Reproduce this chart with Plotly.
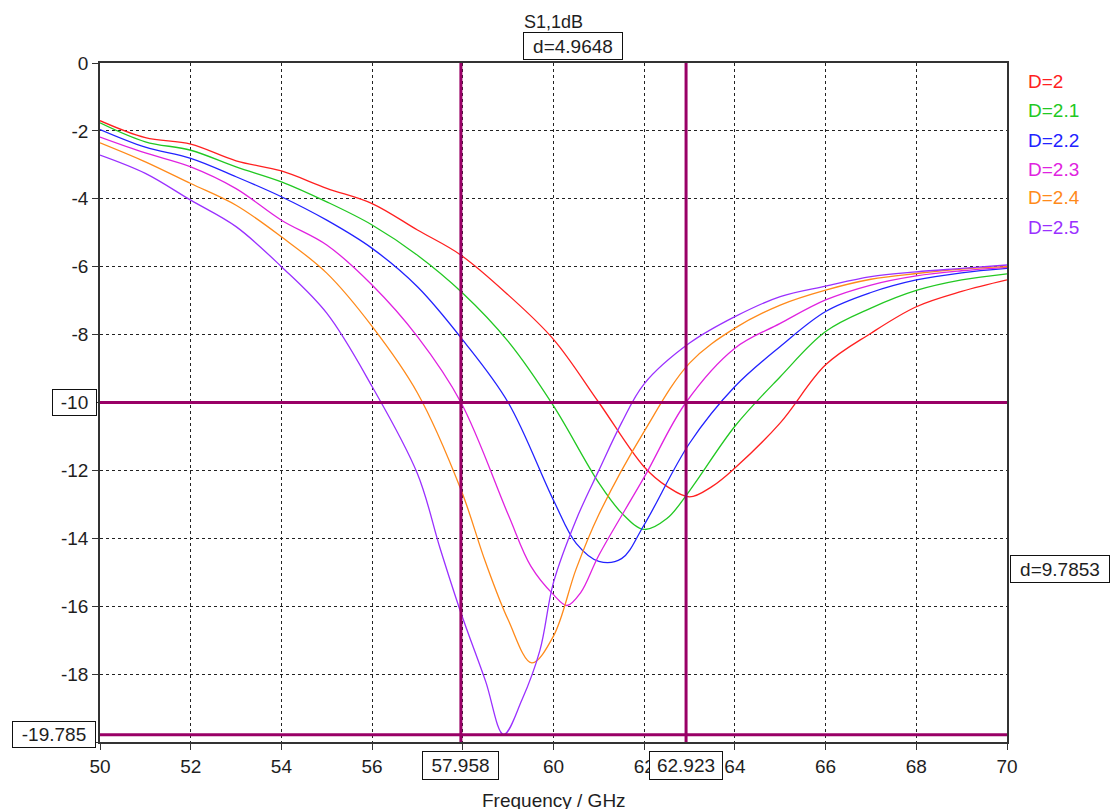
import plotly.graph_objects as go

# ---------------- data ----------------
f_d20 = [50, 51, 52, 53, 54, 55, 56, 57, 57.96, 59, 60, 61, 62, 62.5, 63, 63.5, 64, 65, 66, 67, 68, 69, 70]
s_d20 = [-1.7, -2.2, -2.39, -2.88, -3.18, -3.69, -4.14, -4.92, -5.66, -6.83, -8.14, -10.0, -11.9, -12.47, -12.78, -12.47, -11.93, -10.6, -8.89, -7.96, -7.18, -6.73, -6.39]

f_d21 = [50, 51, 52, 53, 54, 55, 56, 57, 58, 59, 60, 61, 61.5, 62, 62.5, 63, 64, 65, 66, 67, 68, 69, 70]
s_d21 = [-1.76, -2.32, -2.57, -3.06, -3.5, -4.09, -4.77, -5.66, -6.78, -8.2, -10.1, -12.37, -13.25, -13.74, -13.42, -12.6, -10.7, -9.24, -7.91, -7.22, -6.7, -6.39, -6.21]

f_d22 = [50, 51, 52, 53, 54, 55, 56, 57, 58, 59, 60, 60.5, 61, 61.5, 62, 63, 64, 65, 66, 67, 68, 69, 70]
s_d22 = [-1.96, -2.48, -2.81, -3.35, -3.94, -4.63, -5.46, -6.59, -8.16, -10.0, -12.88, -14.15, -14.68, -14.6, -13.6, -11.2, -9.53, -8.35, -7.32, -6.76, -6.39, -6.18, -6.05]

f_d23 = [50, 51, 52, 53, 54, 55, 56, 57, 57.96, 59, 59.5, 60, 60.3, 60.6, 61, 62, 62.92, 64, 65, 66, 67, 68, 69, 70]
s_d23 = [-2.18, -2.65, -3.06, -3.7, -4.63, -5.36, -6.54, -8.06, -10.0, -13.3, -14.82, -15.66, -15.98, -15.6, -14.5, -12.2, -10.0, -8.4, -7.67, -6.98, -6.54, -6.27, -6.12, -6.02]

f_d24 = [50, 51, 52, 53, 54, 55, 56, 57, 57.96, 58.5, 59, 59.52, 60, 60.5, 61, 62, 63, 64, 65, 66, 67, 68, 69, 70]
s_d24 = [-2.35, -2.91, -3.55, -4.19, -5.12, -6.19, -7.76, -9.72, -12.57, -14.7, -16.4, -17.67, -16.88, -14.9, -13.3, -10.85, -8.84, -7.81, -7.13, -6.69, -6.37, -6.2, -6.07, -6.0]

f_d25 = [50, 51, 52, 53, 54, 55, 56, 57, 57.5, 57.96, 58.5, 58.9, 59.3, 59.7, 60, 60.5, 61, 61.5, 62, 63, 64, 65, 66, 67, 68, 69, 70]
s_d25 = [-2.71, -3.25, -4.04, -4.82, -6.0, -7.37, -9.53, -12.1, -14.3, -16.2, -18.2, -19.78, -18.77, -17.3, -15.3, -13.45, -12.0, -10.6, -9.45, -8.25, -7.47, -6.88, -6.57, -6.29, -6.15, -6.05, -5.95]

series_names = ["D=2", "D=2.1", "D=2.2", "D=2.3", "D=2.4", "D=2.5"]
series_f = [f_d20, f_d21, f_d22, f_d23, f_d24, f_d25]
series_s = [s_d20, s_d21, s_d22, s_d23, s_d24, s_d25]
colors = ["#ff2020", "#22c822", "#2222ff", "#e022e0", "#ff8a1a", "#9a30ff"]

x_ticks = [50, 52, 54, 56, 58, 60, 62, 64, 66, 68, 70]
y_ticks = [0, -2, -4, -6, -8, -10, -12, -14, -16, -18, -20]
y_tick_text = ["0", "-2", "-4", "-6", "-8", "-10", "-12", "-14", "-16", "-18", ""]

marker_x = [57.958, 62.923]
marker_y = [-10, -19.785]
delta_x_label = "d=4.9648"
delta_y_label = "d=9.7853"
title_text = "S1,1dB"
x_title = "Frequency / GHz"

# ---------------- figure ----------------
FONT = "Liberation Sans"
TXT = "#1e1e1e"
MK = "#990066"
W, H = 1111, 809
L, R, T, B = 100, 104, 63, 67
pw, ph = W - L - R, H - T - B


def px_x(p):
    return (p - L) / pw


def px_y(p):
    return (H - B - p) / ph


fig = go.Figure()
for name, fx, sy, c in zip(series_names, series_f, series_s, colors):
    fig.add_trace(go.Scatter(x=fx, y=sy, mode="lines", name=name,
                             line=dict(color=c, width=1.3, shape="spline", smoothing=1.0),
                             showlegend=False, hoverinfo="skip"))

# marker lines
for mx in marker_x:
    fig.add_shape(type="line", xref="x", yref="paper", x0=mx, x1=mx, y0=0, y1=1,
                  line=dict(color=MK, width=3), layer="above")
for my in marker_y:
    fig.add_shape(type="line", xref="paper", yref="y", x0=0, x1=1, y0=my, y1=my,
                  line=dict(color=MK, width=3), layer="above")

box = dict(bgcolor="white", bordercolor="#111111", borderwidth=1, borderpad=0,
           showarrow=False, font=dict(family=FONT, size=19, color=TXT))

# y marker labels at left
fig.add_annotation(text="-10", xref="paper", yref="y", x=px_x(97), y=marker_y[0],
                   xanchor="right", yanchor="middle", width=43, height=25, **box)
fig.add_annotation(text=f"{marker_y[1]:.3f}", xref="paper", yref="y", x=px_x(96), y=marker_y[1],
                   xanchor="right", yanchor="middle", width=82, height=25, **box)
# x marker labels below axis
fig.add_annotation(text=f"{marker_x[0]:.3f}", xref="x", yref="paper", x=marker_x[0], y=px_y(765.5),
                   xanchor="center", yanchor="middle", width=75, height=27, **box)
fig.add_annotation(text=f"{marker_x[1]:.3f}", xref="x", yref="paper", x=marker_x[1], y=px_y(765.5),
                   xanchor="center", yanchor="middle", width=72, height=27, **box)
# delta labels
fig.add_annotation(text=delta_x_label, xref="paper", yref="paper",
                   x=px_x(572.7), y=px_y(45.5), xanchor="center", yanchor="middle",
                   width=98, height=26, **box)
fig.add_annotation(text=delta_y_label, xref="paper", yref="y",
                   x=px_x(1060), y=(marker_y[0] + marker_y[1]) / 2, xanchor="center", yanchor="middle",
                   width=98, height=26, **box)

# title and x-axis title
fig.add_annotation(text=title_text, xref="paper", yref="paper", x=0.5, y=px_y(21.5),
                   xanchor="center", yanchor="middle", showarrow=False,
                   font=dict(family=FONT, size=18, color=TXT))
fig.add_annotation(text=x_title, xref="paper", yref="paper", x=px_x(554), y=px_y(800),
                   xanchor="center", yanchor="middle", showarrow=False,
                   font=dict(family=FONT, size=19, color=TXT))

# legend as coloured text
leg_y = [81.7, 110.7, 140, 169, 198, 227]
for name, c, yy in zip(series_names, colors, leg_y):
    fig.add_annotation(text=name, xref="paper", yref="paper", x=px_x(1026), y=px_y(yy),
                       xanchor="left", yanchor="middle", showarrow=False,
                       font=dict(family=FONT, size=19, color=c))

axis_common = dict(showline=True, mirror=True, linecolor="#333333", linewidth=1.5,
                   showgrid=True, gridcolor="#222222", gridwidth=1, griddash="3px,3px",
                   zeroline=False, ticks="outside", ticklen=6, tickcolor="#333333",
                   tickfont=dict(family=FONT, size=19, color=TXT))

fig.update_xaxes(range=[50, 70], tickmode="array", tickvals=x_ticks,
                 ticktext=[str(v) for v in x_ticks], **axis_common)
fig.update_yaxes(range=[-20, 0], tickmode="array", tickvals=y_ticks,
                 ticktext=y_tick_text, **axis_common)

fig.update_layout(width=W, height=H, margin=dict(l=L, r=R, t=T, b=B, pad=0),
                  paper_bgcolor="white", plot_bgcolor="white", showlegend=False)

fig.write_html("out.html", config={"displayModeBar": False},
               post_script="document.body.style.margin='0px';document.body.style.overflow='hidden';")
